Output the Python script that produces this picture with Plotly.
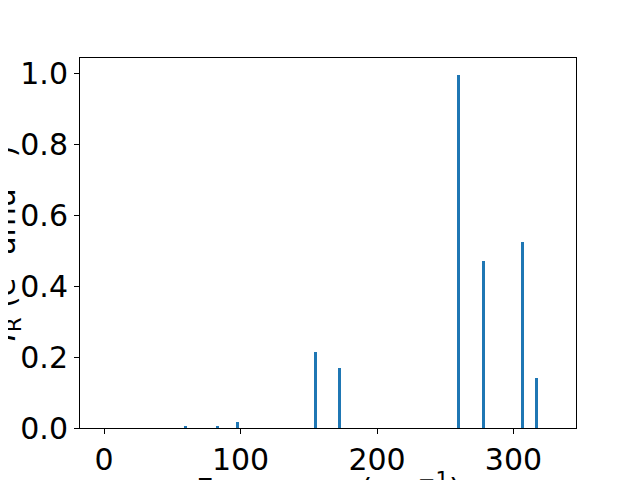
import plotly.graph_objects as go

# phonon frequencies (cm^-1) and IR intensities
frequencies = [60, 83, 97.5, 155, 172.5, 259.6, 278, 306.5, 316.5]
intensities = [0.005, 0.003, 0.017, 0.215, 0.169, 0.997, 0.472, 0.524, 0.140]

x_ticks = [0, 100, 200, 300]
y_ticks = [0.0, 0.2, 0.4, 0.6, 0.8, 1.0]

x_title = "Frequency (cm<sup>−1</sup>)"
y_title = "<i>I</i><sub>R</sub> (e<sup>2</sup> amu<sup>−1</sup>)"

FONT = dict(family="DejaVu Sans", size=30, color="black")

fig = go.Figure()
fig.add_trace(
    go.Bar(
        x=frequencies,
        y=intensities,
        width=2.2,
        marker=dict(color="#1f77b4", line=dict(width=0)),
        showlegend=False,
    )
)

axis_style = dict(
    showline=True,
    linecolor="black",
    linewidth=1,
    mirror=True,
    ticks="outside",
    ticklen=5,
    tickwidth=1,
    tickcolor="black",
    showgrid=False,
    zeroline=False,
    automargin=False,
    tickfont=FONT,
)

fig.update_xaxes(
    range=[-17.6, 345.8],
    tickvals=x_ticks,
    ticktext=[str(v) for v in x_ticks],
    **axis_style,
)
fig.update_yaxes(
    range=[0, 1.045],
    tickvals=y_ticks,
    ticktext=[f"{v:.1f}" for v in y_ticks],
    **axis_style,
)

# axis titles as annotations so they can sit partly off the page like the reference
fig.add_annotation(
    text=x_title, font=FONT, showarrow=False,
    xref="paper", yref="paper", x=0.5, y=-0.102,
    xanchor="center", yanchor="top",
)
fig.add_annotation(
    text=y_title, font=FONT, showarrow=False, textangle=-90,
    xref="paper", yref="paper", x=-0.106, y=0.5,
    xanchor="right", yanchor="middle",
)

fig.update_layout(
    width=640,
    height=480,
    margin=dict(l=72, r=72, t=50, b=60),
    paper_bgcolor="white",
    plot_bgcolor="white",
    bargap=0,
)

fig.write_html("out.html")
